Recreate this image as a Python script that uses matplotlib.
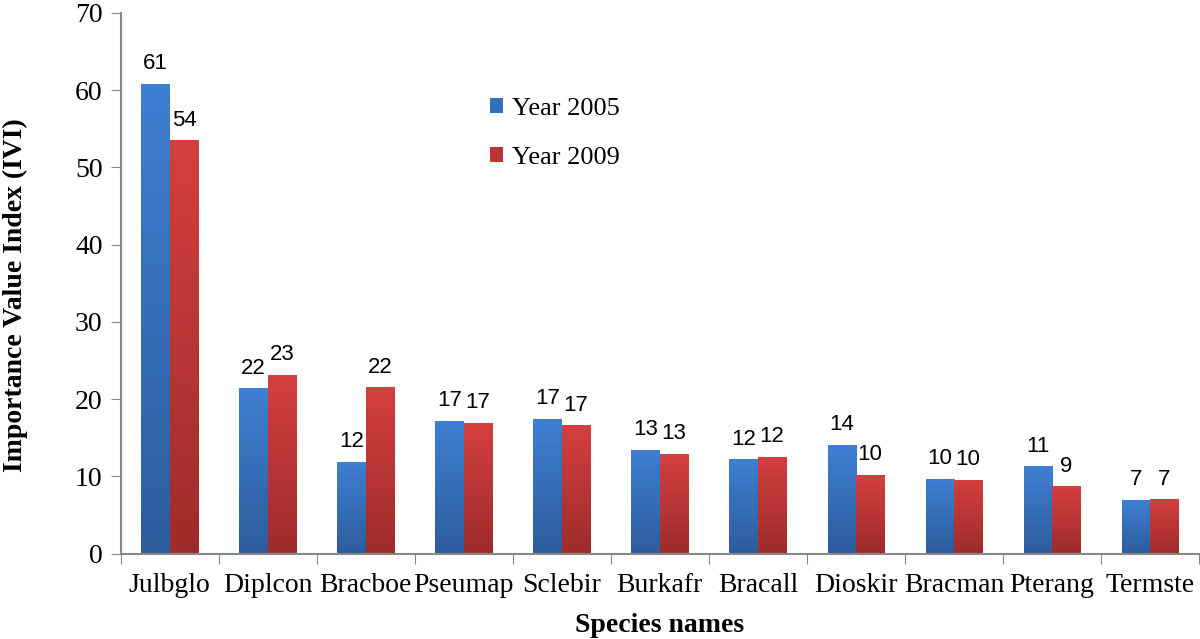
import matplotlib
matplotlib.use('Agg')
import matplotlib.pyplot as plt
import numpy as np
from matplotlib.colors import LinearSegmentedColormap
from matplotlib.patches import Patch

# data
species = ['Julbglo', 'Diplcon', 'Bracboe', 'Pseumap', 'Sclebir', 'Burkafr',
           'Bracall', 'Dioskir', 'Bracman', 'Pterang', 'Termste']
ivi_2005 = [60.8, 21.4, 11.9, 17.2, 17.4, 13.4, 12.2, 14.1, 9.7, 11.3, 6.9]
ivi_2009 = [53.5, 23.1, 21.5, 16.9, 16.6, 12.9, 12.5, 10.2, 9.5, 8.7, 7.0]
labels_2005 = ['61', '22', '12', '17', '17', '13', '12', '14', '10', '11', '7']
labels_2009 = ['54', '23', '22', '17', '17', '13', '12', '10', '10', '9', '7']
series_names = ['Year 2005', 'Year 2009']

serif = 'Liberation Serif'
sans = 'Liberation Sans'

blue_cmap = LinearSegmentedColormap.from_list('b', ['#2d5c9c', '#3e7fd2'])
red_cmap = LinearSegmentedColormap.from_list('r', ['#9e2b2b', '#d43f3f'])

fig = plt.figure(figsize=(12, 6.39), dpi=100)
ax = fig.add_axes([0.1006, 0.1338, 0.8986, 0.8459])

x = np.arange(len(species))
w = 0.29
grad = np.linspace(0, 1, 256).reshape(-1, 1)


def gradient_bars(xs, vals, cmap):
    bars = ax.bar(xs, vals, width=w, color='none', edgecolor='none', zorder=2)
    for b in bars:
        x0, y0 = b.get_x(), b.get_y()
        im = ax.imshow(grad, cmap=cmap, origin='lower', aspect='auto',
                       extent=[x0, x0 + b.get_width(), y0, y0 + b.get_height()],
                       zorder=2)
        im.set_clip_path(b)
    return bars


b1 = gradient_bars(x - w / 2, ivi_2005, blue_cmap)
b2 = gradient_bars(x + w / 2, ivi_2009, red_cmap)

for bars, labs in [(b1, labels_2005), (b2, labels_2009)]:
    for b, lab in zip(bars, labs):
        ax.annotate(lab, (b.get_x() + b.get_width() / 2, b.get_height()),
                    xytext=(0, 7), textcoords='offset points',
                    ha='center', va='bottom', fontsize=16, family=sans)

ax.set_xlim(-0.5, len(species) - 0.5)
ax.set_ylim(0, 70)
ax.set_yticks(np.arange(0, 71, 10))
ax.set_xticks(np.arange(-0.5, len(species), 1.0))
ax.set_xticklabels([])
ax.set_xticks(x, minor=True)
ax.set_xticklabels(species, minor=True)
ax.tick_params(axis='x', which='minor', length=0, pad=14, labelsize=20)
ax.tick_params(axis='x', which='major', length=7, color='#888888')
ax.tick_params(axis='y', length=7, color='#888888', labelsize=20, pad=6)
for lab in ax.get_xticklabels(minor=True) + ax.get_yticklabels():
    lab.set_family(serif)

for s in ['top', 'right']:
    ax.spines[s].set_visible(False)
for s in ['left', 'bottom']:
    ax.spines[s].set_color('#888888')
    ax.spines[s].set_linewidth(1.5)

ax.set_ylabel('Importance Value Index (IVI)', family=serif, fontsize=20,
              fontweight='bold', va='center')
ax.yaxis.set_label_coords(-0.098, 0.478)
ax.set_xlabel('Species names', family=serif, fontsize=20, fontweight='bold',
              va='center')
ax.xaxis.set_label_coords(0.5, -0.134)

handles = [Patch(facecolor='#3670bd'), Patch(facecolor='#bb3535')]
ax.legend(handles, series_names, loc='upper left', bbox_to_anchor=(0.330, 0.868),
          frameon=False, handlelength=0.5, handleheight=0.5,
          handletextpad=0.35, labelspacing=1.05, borderpad=0,
          prop={'family': serif, 'size': 19})

plt.savefig('out.png', dpi=100)
